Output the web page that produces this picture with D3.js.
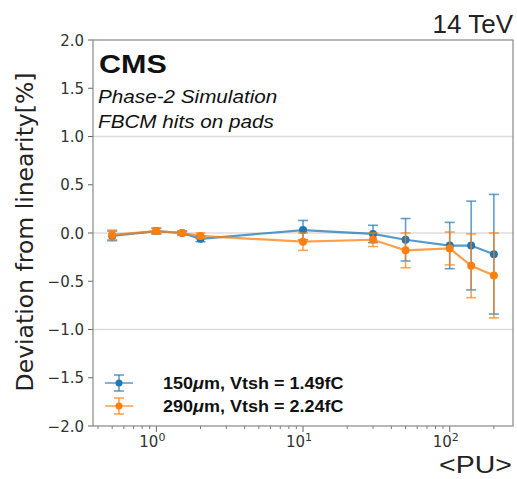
<!DOCTYPE html>
<html>
<head>
<meta charset="utf-8">
<script src="https://cdn.jsdelivr.net/npm/d3@7"></script>
<style>
  body { margin: 0; background: #fff; }
  svg { display: block; }
</style>
</head>
<body>
<script>
/** Data */
const pileup = [0.5, 1, 1.5, 2, 10, 30, 50, 100, 140, 200];
const dev150 = [-0.03, 0.02, 0.0, -0.06, 0.03, -0.01, -0.07, -0.13, -0.13, -0.22];
const err150 = [0.05, 0.03, 0.02, 0.03, 0.10, 0.09, 0.22, 0.24, 0.46, 0.62];
const dev290 = [-0.02, 0.02, 0.0, -0.03, -0.09, -0.07, -0.18, -0.16, -0.34, -0.44];
const err290 = [0.05, 0.03, 0.02, 0.03, 0.09, 0.07, 0.18, 0.17, 0.33, 0.44];
const seriesNames = ["150", "290"];
const seriesVtsh = ["1.49fC", "2.24fC"];
const yTicks = [-2.0, -1.5, -1.0, -0.5, 0.0, 0.5, 1.0, 1.5, 2.0];
const gridLines = [-1.0, 0.0, 1.0];
const xMajor = [1, 10, 100];

const width = 517, height = 479;
const plotLeft = 93, plotRight = 513, plotTop = 40, plotBottom = 426;
const colors = ["#1f77b4", "#ff7f0e"];

const svg = d3.select("body").append("svg")
  .attr("width", width)
  .attr("height", height);

const x = d3.scaleLog().domain([0.37, 270]).range([plotLeft, plotRight]);
const y = d3.scaleLinear().domain([-2, 2]).range([plotBottom, plotTop]);

// helper: text that is a bit wider than the font (matplotlib/helvetica look)
function wideText(px, py, sx, anchor) {
  return svg.append("text")
    .attr("transform", "translate(" + px + "," + py + ") scale(" + sx + ",1)")
    .attr("text-anchor", anchor || "start");
}

// grid lines at -1, 0, 1
svg.append("g").selectAll("line")
  .data(gridLines)
  .enter().append("line")
  .attr("x1", plotLeft).attr("x2", plotRight)
  .attr("y1", d => y(d)).attr("y2", d => y(d))
  .attr("stroke", "#dcdcdc")
  .attr("stroke-width", 1.5);

// y axis ticks + labels
const yAxis = svg.append("g");
yAxis.selectAll("line")
  .data(yTicks)
  .enter().append("line")
  .attr("x1", plotLeft - 5).attr("x2", plotLeft)
  .attr("y1", d => y(d)).attr("y2", d => y(d))
  .attr("stroke", "#666");
yAxis.selectAll("text")
  .data(yTicks)
  .enter().append("text")
  .attr("x", plotLeft - 9)
  .attr("y", d => y(d) + 5.5)
  .attr("text-anchor", "end")
  .attr("font-family", "DejaVu Sans")
  .attr("font-size", "15px")
  .attr("fill", "#333")
  .text(d => d < 0 ? "\u2212" + Math.abs(d).toFixed(1) : d.toFixed(1));

// x axis ticks (major + minor)
let minor = [];
[0.1, 1, 10, 100].forEach(dec => {
  for (let k = 2; k <= 9; k++) {
    const v = dec * k;
    if (v >= 0.37 && v <= 270) minor.push(v);
  }
});
const xAxis = svg.append("g");
xAxis.selectAll("line.minor")
  .data(minor)
  .enter().append("line")
  .attr("x1", d => x(d)).attr("x2", d => x(d))
  .attr("y1", plotBottom).attr("y2", plotBottom + 3)
  .attr("stroke", "#777");
xAxis.selectAll("line.major")
  .data(xMajor)
  .enter().append("line")
  .attr("x1", d => x(d)).attr("x2", d => x(d))
  .attr("y1", plotBottom).attr("y2", plotBottom + 6)
  .attr("stroke", "#666");
const xl = xAxis.selectAll("text")
  .data(xMajor)
  .enter().append("text")
  .attr("x", d => x(d) - 4)
  .attr("y", plotBottom + 21)
  .attr("text-anchor", "middle")
  .attr("font-family", "DejaVu Sans")
  .attr("font-size", "15px")
  .attr("fill", "#333");
xl.append("tspan").text("10");
xl.append("tspan")
  .attr("dy", -6)
  .attr("font-size", "11px")
  .text(d => Math.round(Math.log10(d)));

// frame
svg.append("rect")
  .attr("x", plotLeft).attr("y", plotTop)
  .attr("width", plotRight - plotLeft).attr("height", plotBottom - plotTop)
  .attr("fill", "none")
  .attr("stroke", "#888")
  .attr("stroke-width", 1.2);

// series
function drawSeries(vals, errs, color) {
  const g = svg.append("g");
  const pts = pileup.map((p, i) => ({ p: p, v: vals[i], e: errs[i] }));
  g.append("path")
    .datum(pts)
    .attr("d", d3.line().x(d => x(d.p)).y(d => y(d.v)))
    .attr("fill", "none")
    .attr("stroke", color)
    .attr("stroke-opacity", 0.75)
    .attr("stroke-width", 2.2);
  const eb = g.selectAll("g.err").data(pts).enter().append("g")
    .attr("stroke", color)
    .attr("stroke-opacity", 0.7)
    .attr("stroke-width", 1.6);
  eb.append("line")
    .attr("x1", d => x(d.p)).attr("x2", d => x(d.p))
    .attr("y1", d => y(d.v + d.e)).attr("y2", d => y(d.v - d.e));
  [1, -1].forEach(s => {
    eb.append("line")
      .attr("x1", d => x(d.p) - 5).attr("x2", d => x(d.p) + 5)
      .attr("y1", d => y(d.v + s * d.e)).attr("y2", d => y(d.v + s * d.e));
  });
  g.selectAll("circle").data(pts).enter().append("circle")
    .attr("cx", d => x(d.p)).attr("cy", d => y(d.v))
    .attr("r", 4)
    .attr("fill", color);
}
drawSeries(dev150, err150, colors[0]);
drawSeries(dev290, err290, colors[1]);

// CMS labels
wideText(99, 73, 1.22)
  .attr("font-family", "Liberation Sans")
  .attr("font-weight", "bold")
  .attr("font-size", "25px")
  .attr("fill", "#111")
  .text("CMS");
wideText(98, 103, 1.15)
  .attr("font-family", "Liberation Sans")
  .attr("font-style", "italic")
  .attr("font-size", "18px")
  .attr("fill", "#111")
  .text("Phase-2 Simulation");
wideText(98, 128, 1.15)
  .attr("font-family", "Liberation Sans")
  .attr("font-style", "italic")
  .attr("font-size", "18px")
  .attr("fill", "#111")
  .text("FBCM hits on pads");

// energy label
wideText(513, 33, 1.04, "end")
  .attr("font-family", "Liberation Sans")
  .attr("font-size", "25px")
  .attr("fill", "#222")
  .text("14 TeV");

// axis titles
svg.append("text")
  .attr("transform", "translate(33," + ((plotTop + plotBottom) / 2 - 1) + ") rotate(-90)")
  .attr("text-anchor", "middle")
  .attr("font-family", "DejaVu Sans")
  .attr("font-size", "23.5px")
  .attr("fill", "#222")
  .text("Deviation from linearity[%]");
wideText(512, 473, 1.24, "end")
  .attr("font-family", "Liberation Sans")
  .attr("font-size", "23px")
  .attr("fill", "#222")
  .text("<PU>");

// legend
const legend = svg.append("g");
[0, 1].forEach(i => {
  const cy = 383 + i * 23;
  const c = colors[i];
  const h = legend.append("g").attr("stroke", c).attr("stroke-opacity", 0.7).attr("stroke-width", 1.6);
  h.append("line").attr("x1", 105).attr("x2", 133).attr("y1", cy).attr("y2", cy);
  h.append("line").attr("x1", 119).attr("x2", 119).attr("y1", cy - 8).attr("y2", cy + 8);
  h.append("line").attr("x1", 114).attr("x2", 124).attr("y1", cy - 8).attr("y2", cy - 8);
  h.append("line").attr("x1", 114).attr("x2", 124).attr("y1", cy + 8).attr("y2", cy + 8);
  legend.append("circle").attr("cx", 119).attr("cy", cy).attr("r", 3.5).attr("fill", c);
  const t = svg.append("text")
    .attr("transform", "translate(163," + (cy + 6) + ") scale(1.06,1)")
    .attr("font-family", "Liberation Sans")
    .attr("font-weight", "bold")
    .attr("font-size", "17px")
    .attr("fill", "#111");
  t.append("tspan").text(seriesNames[i]);
  t.append("tspan").attr("font-style", "italic").text("\u03bc");
  t.append("tspan").text("m, Vtsh = " + seriesVtsh[i]);
});
</script>
</body>
</html>
